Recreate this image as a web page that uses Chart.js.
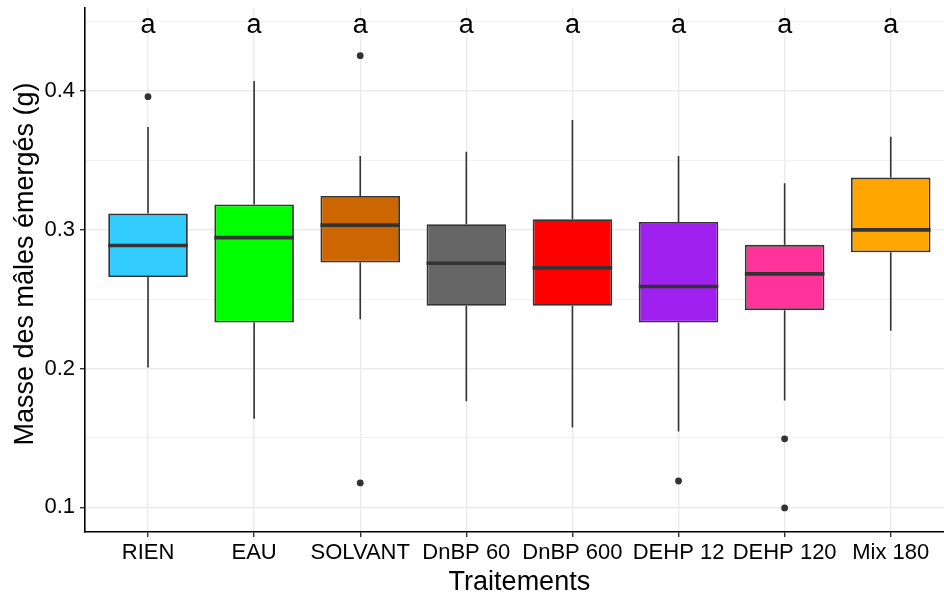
<!DOCTYPE html>
<html lang="fr">
<head>
<meta charset="utf-8">
<script src="https://cdn.jsdelivr.net/npm/chart.js@4.4.1/dist/chart.umd.min.js"></script>
<style>
  html, body { margin: 0; padding: 0; background: #fff; overflow: hidden; }
  #wrap { width: 948px; height: 597px; }
  canvas { display: block; }
</style>
</head>
<body>
<div id="wrap"><canvas id="boxChart"></canvas></div>
<script>
// Données (masse des mâles émergés, g)
var traitements = ['RIEN', 'EAU', 'SOLVANT', 'DnBP 60', 'DnBP 600', 'DEHP 12', 'DEHP 120', 'Mix 180'];
var couleurs = ['#33CCFF', '#00FF00', '#CC6600', '#666666', '#FF0000', '#A020F0', '#FF3399', '#FFA500'];
var basMoustache = [0.2007, 0.1638, 0.2355, 0.1765, 0.1576, 0.1547, 0.1770, 0.2271];
var q1 = [0.2658, 0.2331, 0.2763, 0.2451, 0.2451, 0.2331, 0.2420, 0.2837];
var mediane = [0.2885, 0.2942, 0.3032, 0.2758, 0.2724, 0.2590, 0.2681, 0.2998];
var q3 = [0.3115, 0.3180, 0.3242, 0.3039, 0.3075, 0.3055, 0.2890, 0.3374];
var hautMoustache = [0.3739, 0.4070, 0.3530, 0.3561, 0.3789, 0.3530, 0.3334, 0.3669];
var outlierGroupe = [1, 3, 3, 6, 7, 7];
var outlierValeur = [0.3957, 0.4252, 0.1176, 0.1190, 0.1494, 0.0996];
var lettres = ['a', 'a', 'a', 'a', 'a', 'a', 'a', 'a'];
var yTicks = [0.1, 0.2, 0.3, 0.4];
var yMinor = [0.15, 0.25, 0.35, 0.45];

var police = '"Liberation Sans", Arial, sans-serif';

function estMajeur(v) {
  return yTicks.some(function (t) { return Math.abs(t - v) < 1e-9; });
}

// Moustaches, médianes, lettres et titres des axes
var boxPlugin = {
  id: 'boxPlugin',
  beforeDatasetsDraw: function (chart) {
    var ctx = chart.ctx, xs = chart.scales.x, ys = chart.scales.y;
    ctx.save();
    ctx.strokeStyle = '#333333';
    ctx.lineWidth = 1.6;
    for (var i = 0; i < traitements.length; i++) {
      var x = xs.getPixelForValue(i + 1);
      ctx.beginPath();
      ctx.moveTo(x, ys.getPixelForValue(hautMoustache[i]));
      ctx.lineTo(x, ys.getPixelForValue(q3[i]));
      ctx.moveTo(x, ys.getPixelForValue(q1[i]));
      ctx.lineTo(x, ys.getPixelForValue(basMoustache[i]));
      ctx.stroke();
    }
    ctx.restore();
  },
  afterDatasetsDraw: function (chart) {
    var ctx = chart.ctx, xs = chart.scales.x, ys = chart.scales.y;
    var meta = chart.getDatasetMeta(0);
    ctx.save();
    ctx.strokeStyle = '#333333';
    ctx.lineWidth = 3.6;
    meta.data.forEach(function (bar, i) {
      var w = bar.width;
      var y = ys.getPixelForValue(mediane[i]);
      ctx.beginPath();
      ctx.moveTo(bar.x - w / 2, y);
      ctx.lineTo(bar.x + w / 2, y);
      ctx.stroke();
    });
    ctx.fillStyle = '#000';
    ctx.font = '27px ' + police;
    ctx.textAlign = 'center';
    ctx.textBaseline = 'alphabetic';
    for (var i = 0; i < lettres.length; i++) {
      ctx.fillText(lettres[i], xs.getPixelForValue(i + 1), ys.getPixelForValue(0.4415));
    }
    ctx.restore();
  },
  afterDraw: function (chart) {
    var ctx = chart.ctx, xs = chart.scales.x, area = chart.chartArea;
    ctx.save();
    ctx.fillStyle = '#000';
    ctx.font = '27px ' + police;
    ctx.textAlign = 'center';
    ctx.textBaseline = 'alphabetic';
    ctx.fillText('Traitements', xs.getPixelForValue(4.5), 590);
    ctx.translate(33, (area.top + area.bottom) / 2 - 6);
    ctx.rotate(-Math.PI / 2);
    ctx.fillText('Masse des mâles émergés (g)', 0, 0);
    ctx.restore();
  }
};

var ctxBox = document.getElementById('boxChart').getContext('2d');
var boxChart = new Chart(ctxBox, {
  type: 'bar',
  data: {
    datasets: [{
      label: 'Boîtes',
      data: traitements.map(function (t, i) { return { x: i + 1, y: [q1[i], q3[i]] }; }),
      backgroundColor: couleurs,
      borderColor: '#333333',
      borderWidth: 1.8,
      borderSkipped: false,
      barPercentage: 0.75,
      categoryPercentage: 1,
      order: 2
    }, {
      type: 'scatter',
      label: 'Valeurs extrêmes',
      data: outlierGroupe.map(function (g, i) { return { x: g, y: outlierValeur[i] }; }),
      backgroundColor: '#333333',
      borderColor: '#333333',
      pointRadius: 3.4,
      borderWidth: 0,
      order: 1
    }]
  },
  options: {
    responsive: true,
    maintainAspectRatio: false,
    animation: false,
    layout: { padding: { top: 8, right: 0, left: 0, bottom: 0 } },
    plugins: {
      legend: { display: false },
      tooltip: { enabled: false }
    },
    scales: {
      x: {
        type: 'linear',
        offset: false,
        min: 0.406,
        max: 8.502,
        afterBuildTicks: function (scale) {
          scale.ticks = traitements.map(function (t, i) { return { value: i + 1 }; });
        },
        afterFit: function (scale) {
          scale.height = 65;
          scale.paddingLeft = 0;
          scale.paddingRight = 0;
        },
        ticks: {
          autoSkip: false,
          maxRotation: 0,
          padding: 3,
          color: '#000',
          font: { family: police, size: 22 },
          callback: function (value) { return traitements[Math.round(value) - 1]; }
        },
        grid: {
          offset: false,
          color: '#ebebeb',
          lineWidth: 1.4,
          tickColor: '#333333',
          tickLength: 5,
          tickWidth: 1.4
        },
        border: { display: true, color: '#000', width: 1.6 }
      },
      y: {
        min: 0.0823,
        max: 0.4595,
        afterBuildTicks: function (scale) {
          scale.ticks = yTicks.concat(yMinor).sort().map(function (v) { return { value: v }; });
        },
        afterFit: function (scale) {
          scale.width = 85;
          scale.paddingTop = 0;
          scale.paddingBottom = 0;
        },
        ticks: {
          padding: 5,
          color: '#000',
          font: { family: police, size: 22 },
          callback: function (value) { return estMajeur(value) ? value.toFixed(1) : ''; }
        },
        grid: {
          color: '#ebebeb',
          lineWidth: function (c) { return estMajeur(c.tick.value) ? 1.4 : 0.7; },
          tickColor: function (c) { return estMajeur(c.tick.value) ? '#333333' : 'rgba(0,0,0,0)'; },
          tickLength: 5,
          tickWidth: 1.4
        },
        border: { display: true, color: '#000', width: 1.6 }
      }
    }
  },
  plugins: [boxPlugin]
});
</script>
</body>
</html>
